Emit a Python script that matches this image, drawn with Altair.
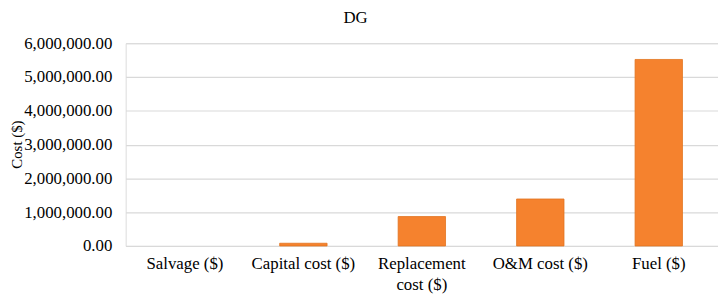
import altair as alt
import pandas as pd

categories = ["Salvage ($)", "Capital cost ($)", "Replacement cost ($)", "O&M cost ($)", "Fuel ($)"]
costs = [0, 80000, 870000, 1390000, 5520000]
y_ticks = [0, 1000000, 2000000, 3000000, 4000000, 5000000, 6000000]

df = pd.DataFrame({"category": categories, "cost": costs})

FONT = "'Liberation Serif', 'Times New Roman', 'DejaVu Serif', serif"

chart = alt.Chart(df).transform_filter(
    alt.datum.cost > 0
).mark_bar(
    color="#F5822E", stroke="#E2731F", strokeWidth=0.8
).encode(
    x=alt.X("category:N", sort=categories, title=None,
            scale=alt.Scale(domain=categories, paddingInner=0.6, paddingOuter=0.3),
            axis=alt.Axis(labelAngle=0, labelFont=FONT, labelFontSize=17,
                          labelColor="#000000", labelPadding=10,
                          labelLineHeight=21, labelBaseline="top",
                          labelExpr="datum.label == 'Replacement cost ($)' ? ['Replacement', 'cost ($)'] : datum.label",
                          domain=False, ticks=False, grid=False)),
    y=alt.Y("cost:Q", title="Cost ($)",
            scale=alt.Scale(domain=[0, 6000000], nice=False),
            axis=alt.Axis(values=y_ticks, format=",.2f", labelFont=FONT,
                          labelFontSize=17, labelColor="#000000", labelPadding=14,
                          domain=False, ticks=False, grid=True,
                          gridColor="#D9D9D9", gridWidth=1.2,
                          titleFont=FONT, titleFontSize=15, titleFontWeight="normal",
                          titleColor="#000000", titleAngle=270,
                          titleX=-110, titleY=102, titleAlign="center",
                          titleBaseline="middle")),
).properties(
    width=599, height=205,
    title=alt.TitleParams("DG", font=FONT, fontSize=17, fontWeight="normal",
                          color="#000000", anchor="middle", frame="group",
                          dx=-67, offset=7),
    autosize=alt.AutoSizeParams(type="none"),
    padding={"left": 119, "top": 34, "right": 0, "bottom": 51},
).configure_view(stroke=None).configure(background="white")

chart.save("out.html", embed_options={"renderer": "svg", "actions": False})
